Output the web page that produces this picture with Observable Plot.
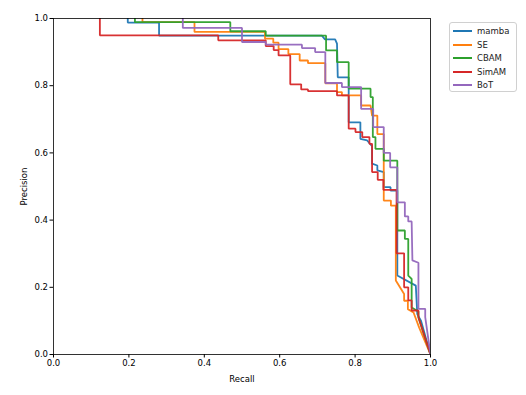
<!DOCTYPE html>
<html>
<head>
<meta charset="utf-8">
<script src="https://cdn.jsdelivr.net/npm/d3@7"></script>
<script src="https://cdn.jsdelivr.net/npm/@observablehq/plot@0.6"></script>
<style>
  html, body { margin: 0; padding: 0; background: #fff; }
  #wrap { position: relative; width: 526px; height: 395px; font-family: "DejaVu Sans", sans-serif; }
  #legend { position: absolute; left: 449px; top: 22px; width: 68px; height: 70px; border: 1px solid #d0d0d0; border-radius: 3px; background: rgba(255,255,255,0.8); box-sizing: border-box; }
  .item { position: absolute; left: 0; height: 12px; font-size: 8.5px; line-height: 12px; color: #222; }
  .item .sw { position: absolute; left: 3px; top: 5px; width: 19px; height: 2px; }
  .item .lb { position: absolute; left: 27px; top: 0; white-space: nowrap; }
</style>
</head>
<body>
<div id="wrap"><div id="legend"></div></div>
<script>
const seriesNames = ["mamba", "SE", "CBAM", "SimAM", "BoT"];
const seriesColors = ["#1f77b4", "#ff7f0e", "#2ca02c", "#d62728", "#9467bd"];
const tickValues = [0, 0.2, 0.4, 0.6, 0.8, 1.0];

const mambaRecall    = [0.197,0.197,0.28,0.28,0.712,0.72,0.747,0.752,0.754,0.783,0.783,0.814,0.814,0.832,0.845,0.845,0.859,0.859,0.876,0.876,0.894,0.894,0.912,0.912,0.961,0.965,0.975,1.0];
const mambaPrecision = [1.0,0.988,0.988,0.949,0.949,0.938,0.938,0.925,0.825,0.825,0.691,0.691,0.642,0.637,0.62,0.568,0.5625,0.548,0.543,0.498,0.498,0.488,0.488,0.235,0.205,0.12,0.10,0.0];

const seRecall    = [0.236,0.236,0.374,0.374,0.561,0.561,0.583,0.583,0.597,0.597,0.623,0.623,0.653,0.653,0.675,0.675,0.721,0.721,0.752,0.752,0.765,0.765,0.816,0.816,0.841,0.845,0.859,0.859,0.876,0.876,0.895,0.895,0.908,0.908,0.93,0.93,0.94,0.94,0.955,0.97,1.0];
const sePrecision = [1.0,0.989,0.989,0.96,0.96,0.94,0.94,0.928,0.928,0.909,0.909,0.894,0.894,0.875,0.875,0.867,0.867,0.807,0.807,0.781,0.781,0.771,0.771,0.741,0.741,0.711,0.711,0.656,0.656,0.458,0.458,0.443,0.443,0.22,0.18,0.16,0.16,0.135,0.125,0.08,0.0];

const cbamRecall    = [0.216,0.216,0.469,0.469,0.563,0.563,0.723,0.723,0.752,0.752,0.783,0.783,0.841,0.841,0.847,0.847,0.854,0.854,0.876,0.876,0.912,0.912,0.932,0.932,0.941,0.941,0.95,0.95,0.968,0.968,1.0];
const cbamPrecision = [1.0,0.989,0.989,0.962,0.962,0.949,0.949,0.905,0.905,0.870,0.870,0.791,0.791,0.766,0.766,0.647,0.647,0.612,0.612,0.577,0.577,0.369,0.369,0.344,0.344,0.235,0.225,0.14,0.128,0.11,0.0];

const simamRecall    = [0.123,0.123,0.437,0.437,0.563,0.563,0.584,0.584,0.597,0.597,0.628,0.628,0.657,0.657,0.675,0.675,0.752,0.752,0.783,0.783,0.801,0.801,0.819,0.819,0.838,0.838,0.845,0.845,0.86,0.86,0.875,0.875,0.91,0.91,0.93,0.93,0.941,0.941,0.95,0.95,0.968,0.968,1.0];
const simamPrecision = [1.0,0.95,0.95,0.935,0.935,0.918,0.918,0.906,0.906,0.89,0.89,0.804,0.804,0.789,0.789,0.784,0.784,0.771,0.771,0.672,0.672,0.662,0.662,0.647,0.647,0.627,0.627,0.543,0.543,0.52,0.52,0.49,0.49,0.301,0.301,0.20,0.20,0.161,0.161,0.131,0.131,0.111,0.0];

const botRecall    = [0.343,0.343,0.5,0.5,0.563,0.563,0.659,0.659,0.694,0.694,0.721,0.721,0.765,0.765,0.816,0.816,0.848,0.848,0.876,0.876,0.893,0.893,0.912,0.912,0.932,0.932,0.941,0.941,0.95,0.952,0.968,0.968,0.986,0.986,1.0];
const botPrecision = [1.0,0.972,0.972,0.93,0.93,0.922,0.922,0.912,0.912,0.9,0.9,0.808,0.808,0.796,0.796,0.731,0.731,0.677,0.677,0.60,0.60,0.557,0.557,0.453,0.453,0.411,0.411,0.396,0.396,0.28,0.273,0.136,0.136,0.111,0.0];

const recalls = [mambaRecall, seRecall, cbamRecall, simamRecall, botRecall];
const precisions = [mambaPrecision, sePrecision, cbamPrecision, simamPrecision, botPrecision];

const rows = [];
seriesNames.forEach((name, i) => {
  recalls[i].forEach((r, j) => rows.push({series: name, recall: r, precision: precisions[i][j]}));
});

const chart = Plot.plot({
  width: 526,
  height: 395,
  marginLeft: 53,
  marginRight: 96,
  marginTop: 18,
  marginBottom: 41,
  style: {fontFamily: "DejaVu Sans, sans-serif", fontSize: "8.5px", color: "#000", background: "#fff"},
  x: {domain: [0, 1]},
  y: {domain: [0, 1]},
  color: {domain: seriesNames, range: seriesColors},
  marks: [
    Plot.line(rows, {x: "recall", y: "precision", z: "series", stroke: "series", strokeWidth: 1.8, strokeOpacity: 0.95, strokeLinejoin: "miter", clip: true}),
    Plot.frame({stroke: "#000", strokeWidth: 0.8}),
    Plot.axisX({ticks: tickValues, tickFormat: d3.format(".1f"), tickSize: 3.5, tickPadding: 2, label: "Recall", labelAnchor: "center", labelArrow: "none", labelOffset: 27}),
    Plot.axisY({ticks: tickValues, tickFormat: d3.format(".1f"), tickSize: 3.5, tickPadding: 2, label: "Precision", labelAnchor: "center", labelArrow: "none", labelOffset: 33})
  ]
});
document.getElementById("wrap").prepend(chart);

const leg = document.getElementById("legend");
seriesNames.forEach((name, i) => {
  const it = document.createElement("div");
  it.className = "item";
  it.style.top = (2 + i * 13.5) + "px";
  const sw = document.createElement("div");
  sw.className = "sw";
  sw.style.background = seriesColors[i];
  const lb = document.createElement("span");
  lb.className = "lb";
  lb.textContent = name;
  it.appendChild(sw);
  it.appendChild(lb);
  leg.appendChild(it);
});
</script>
</body>
</html>
